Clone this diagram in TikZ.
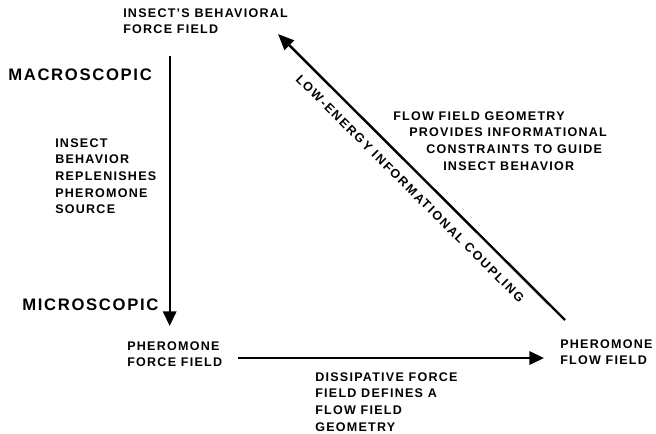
\documentclass[tikz,border=0pt]{standalone}
\usepackage{fontspec}
\setmainfont{Liberation Sans}[LetterSpace=10]
\usetikzlibrary{calc,arrows.meta}

\begin{document}
\begin{tikzpicture}[x=0.75pt, y=-0.75pt,
		lbl/.style={font=\fontsize{9.4}{12.5}\selectfont\bfseries, inner sep=0pt, align=left},
		leveltext/.style={font=\fontsize{12.5}{14}\selectfont\bfseries, inner sep=0pt},
		arr/.style={-{Triangle[length=11pt, width=10pt]}, line width=1.7pt},
		rarr/.style={{Triangle[length=12pt, width=10pt]}-, line width=1.8pt}]
		%%%%% START %%%%%
		\useasboundingbox (0, 0) rectangle (656, 433);
		
		\node[lbl, anchor=north west] (behav) at (123, 8) {INSECT'S BEHAVIORAL\\FORCE FIELD};
		\node[leveltext, anchor=west] (macro) at (8, 75) {MACROSCOPIC};
		\node[lbl, anchor=north west] (repl) at (55, 138) {INSECT\\BEHAVIOR\\REPLENISHES\\PHEROMONE\\SOURCE};
		\node[leveltext, anchor=west] (micro) at (22, 305) {MICROSCOPIC};
		
		\node[lbl, anchor=north west] (pforce) at (127, 341) {PHEROMONE\\FORCE FIELD};
		\node[lbl, anchor=north west] (pflow) at (560, 339) {PHEROMONE\\FLOW FIELD};
		\node[lbl, anchor=north west] (dissip) at (315, 372) {DISSIPATIVE FORCE\\FIELD DEFINES A\\FLOW FIELD\\GEOMETRY};
		\node[lbl, anchor=north west] (geom) at (393, 111) {FLOW FIELD GEOMETRY\\\hspace*{12pt}PROVIDES INFORMATIONAL\\\hspace*{24.75pt}CONSTRAINTS TO GUIDE\\\hspace*{37.5pt}INSECT BEHAVIOR};
		
		% behaviour down to pheromone source
		\draw[arr] ($(pforce.north |- behav.south)+(-5, 22)$) -- ($(pforce.north)+(-5, -15)$);
		
		% force field to flow field
		\draw[arr] ($(pforce.east)+(16, 4)$) -- ($(pforce.east -| pflow.west)+(-16, 4)$);
		
		% coupling back to the insect
		\draw[rarr] ($(behav.east)+(-10, 13)$) -- node[lbl, sloped, below=8pt, font=\fontsize{9.4}{12.5}\selectfont\bfseries\addfontfeature{LetterSpace=14}] (coupl) {LOW-ENERGY INFORMATIONAL COUPLING} ($(pflow.north west)+(5, -19)$);
		
		%%%%% END %%%%%
	\end{tikzpicture}
\end{document}
